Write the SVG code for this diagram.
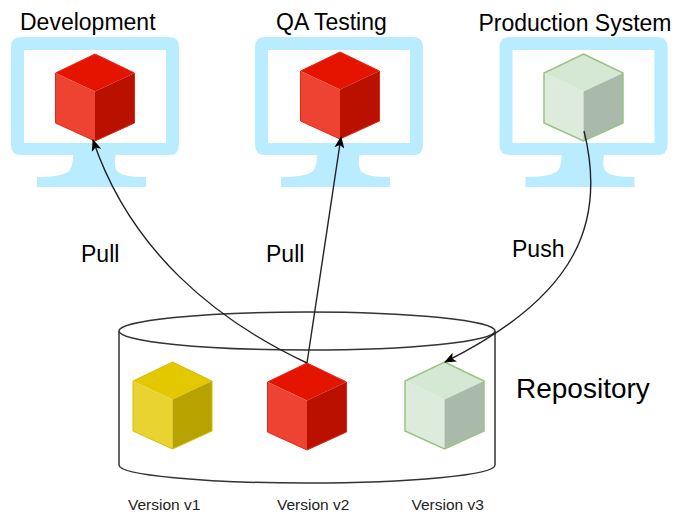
<svg xmlns="http://www.w3.org/2000/svg" width="673" height="513" viewBox="0 0 673 513">
<style>
text{font-family:"Liberation Sans",Arial,sans-serif;fill:#000}
.t{font-size:23px}.p{font-size:23px}.v{font-size:15.500px;fill:#222}
.c{fill:none;stroke:#222;stroke-width:1.4}
.scr{fill:#b9ecff}
.red .a{fill:#e51400}.red .b{fill:#ee4333}.red .d{fill:#b91000}
.ylw .a{fill:#e3c800}.ylw .b{fill:#e9d330}.ylw .d{fill:#b8a200}
.grn .a{fill:#d5e8d4}.grn .b{fill:#dcebdc}.grn .d{fill:#aabaaa}
.red .o{fill:none;stroke:#e02818;stroke-width:1}
.ylw .o{fill:none;stroke:#d6bc0c;stroke-width:1}
.grn .o{fill:none;stroke:#9cc283;stroke-width:1.5}
</style>
<defs>
<marker id="arr" viewBox="0 0 12 10" refX="11" refY="5" markerWidth="12" markerHeight="10" orient="auto" markerUnits="userSpaceOnUse"><path d="M0 0L12 5L0 10L3 5Z" fill="#000"/></marker>
<g id="cube-red" class="red"><path class="a" d="M39.500 0L79 19L39.500 37.500L0 19Z"/><path class="b" d="M0 19L39.500 37.500V87L0 69Z"/><path class="d" d="M79 19L39.500 37.500V87L79 69Z"/><path class="o" d="M39.500 0L79 19V69L39.500 87L0 69V19Z"/></g>
<g id="cube-ylw" class="ylw"><path class="a" d="M39.500 0L79 19L39.500 37.500L0 19Z"/><path class="b" d="M0 19L39.500 37.500V87L0 69Z"/><path class="d" d="M79 19L39.500 37.500V87L79 69Z"/><path class="o" d="M39.500 0L79 19V69L39.500 87L0 69V19Z"/></g>
<g id="cube-grn" class="grn"><path class="a" d="M39.500 0L79 19L39.500 37.500L0 19Z"/><path class="b" d="M0 19L39.500 37.500V87L0 69Z"/><path class="d" d="M79 19L39.500 37.500V87L79 69Z"/><path class="o" d="M39.500 0L79 19V69L39.500 87L0 69V19Z"/></g>
<path id="mon" class="scr" fill-rule="evenodd" d="M21 37H169Q179 37 179 47V145Q179 155 169 155H115.500C114.500 163 114 168 118 172C122 176 133 177 146 177V187H37V177C50 177 61 176 68 172C72 168 73 163 73 155H21Q11 155 11 145V47Q11 37 21 37ZM24 50V143H166V50Z"/>
</defs>
<g id="node-dev"><use href="#mon"/><use href="#cube-red" x="55.500" y="54"/><text class="t" x="20" y="30">Development</text></g>
<g id="node-qa"><use href="#mon" x="244"/><use href="#cube-red" x="300.500" y="52"/><text class="t" x="276" y="30">QA Testing</text></g>
<g id="node-prod"><use href="#mon" x="488.500"/><use href="#cube-grn" x="544" y="54"/><text class="t" x="478.500" y="31">Production System</text></g>
<g id="node-repo"><path d="M119 331V465C119 475 203 483 307 483S495 475 495 465V331" fill="none" stroke="#333" stroke-width="1.500"/><ellipse cx="307" cy="331" rx="188" ry="19" fill="none" stroke="#333" stroke-width="1.500"/><text x="516" y="398" font-size="28">Repository</text></g>
<g id="node-v1"><use href="#cube-ylw" x="133" y="362"/><text class="v" x="128" y="510">Version v1</text></g>
<g id="node-v2"><use href="#cube-red" x="267.500" y="363"/><text class="v" x="277" y="510">Version v2</text></g>
<g id="node-v3"><use href="#cube-grn" x="405" y="362"/><text class="v" x="411.500" y="510">Version v3</text></g>
<g id="connectors">
<path class="c" marker-end="url(#arr)" d="M307 363C215 320 130 250 93 140"/>
<path class="c" marker-end="url(#arr)" d="M307 363L341 137"/>
<path class="c" marker-end="url(#arr)" d="M584 131C606 220 580 295 445 362"/>
</g>
<g id="labels"><text class="p" x="81" y="262">Pull</text><text class="p" x="266" y="262">Pull</text><text class="p" x="512" y="257">Push</text></g>
</svg>
